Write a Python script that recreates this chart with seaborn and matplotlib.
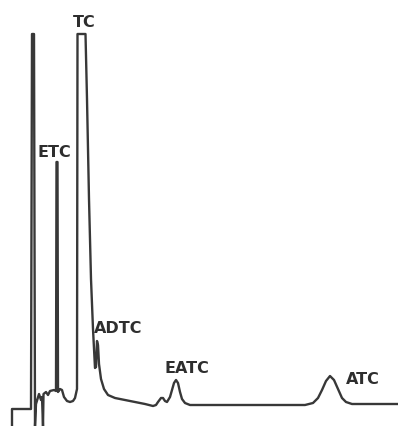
import matplotlib
matplotlib.use("Agg")
import matplotlib.pyplot as plt
import pandas as pd
import seaborn as sb

# trace (time in px from left, response in px from bottom)
time = [12, 12, 31, 32, 34, 35, 36, 39, 41, 42, 43, 43.5, 46, 48, 50, 54, 56,
        56.5, 57.5, 58, 60, 62, 64, 67, 70, 73, 75, 77, 77.5, 85.5, 87, 89, 91,
        93, 95, 96, 97, 98, 99, 101, 104, 108, 115, 130, 145, 153, 156, 158,
        161, 163, 165, 167, 170, 172, 174, 176, 178, 180, 182, 185, 190, 250,
        305, 313, 318, 322, 326, 330, 334, 338, 342, 346, 352, 398]
response = [0, 17, 17, 392, 392, 0, 22, 32, 26, 29, 0, 32, 34, 31, 35, 36, 35,
            264, 264, 34, 37, 36, 29, 25, 24, 25, 28, 37, 392, 392, 327, 227, 147,
            97, 58, 59, 85, 81, 62, 47, 37, 31, 28, 25, 22, 20, 21, 24,
            28, 28, 25, 24, 29, 36, 43, 46, 43, 34, 27, 23, 21, 21,
            21, 23, 28, 36, 45, 50, 46, 37, 28, 24, 22, 22]

peaks = ["TC", "ETC", "ADTC", "EATC", "ATC"]
label_x = [84, 54.5, 118.5, 187, 363]
label_y = [400, 270, 94, 54, 43]

df = pd.DataFrame({"time": time, "response": response})

fig = plt.figure(figsize=(3.98, 4.27), dpi=100)
ax = fig.add_axes([0, 0, 1, 1])
sb.lineplot(data=df, x="time", y="response", sort=False, estimator=None,
            color="#383838", linewidth=1.7, ax=ax)
for name, x, y in zip(peaks, label_x, label_y):
    ax.text(x, y, name, ha="center", va="baseline", fontsize=11.5,
            fontweight="bold", color="#2e2e2e", family="DejaVu Sans")
ax.set_xlim(0, 398)
ax.set_ylim(0, 427)
ax.axis("off")
fig.savefig("out.png", dpi=100, facecolor="white")
